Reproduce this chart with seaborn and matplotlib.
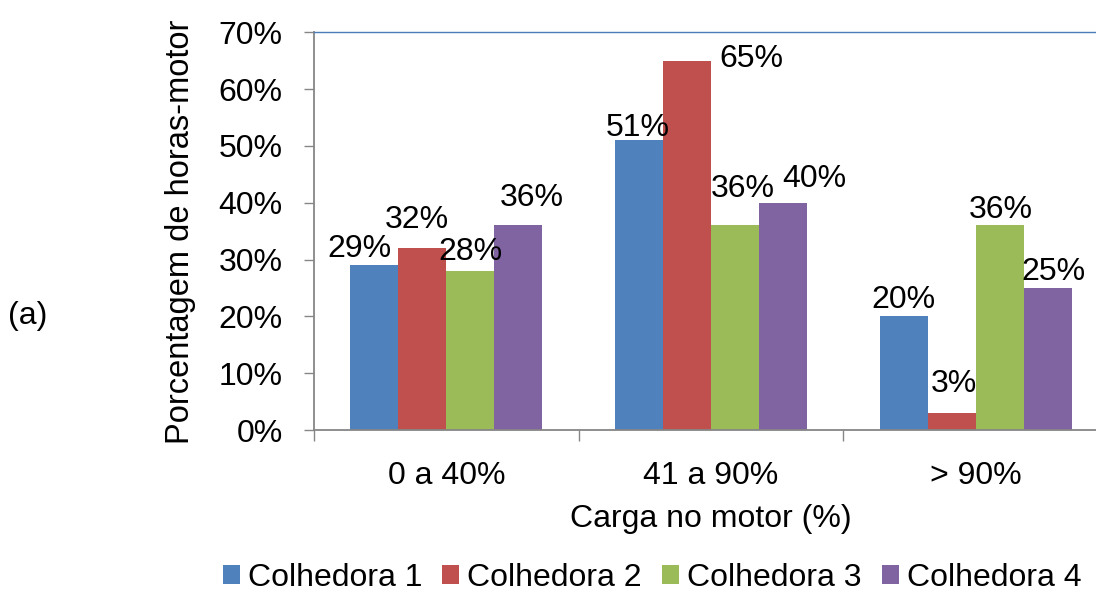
import matplotlib
matplotlib.use("Agg")
import matplotlib.pyplot as plt
import seaborn as sns
import pandas as pd
from matplotlib.ticker import FixedLocator, FuncFormatter

# Chart data
cargas = ["0 a 40%", "41 a 90%", "> 90%"]
colhedoras = ["Colhedora 1", "Colhedora 2", "Colhedora 3", "Colhedora 4"]
colhedora_1 = [29, 51, 20]
colhedora_2 = [32, 65, 3]
colhedora_3 = [28, 36, 36]
colhedora_4 = [36, 40, 25]

cores = ["#4F81BD", "#C0504D", "#9BBB59", "#8064A2"]

# Per-label nudges (pixels) for the value labels, one row per series
label_dx = [[-14.5, -0.7, 0.0], [-5.3, 64.7, 2.7], [0.0, 7.8, 0.7], [13.7, 31.7, 5.3]]
label_dy = [[8.6, 4.3, 8.0], [20.3, -6.7, 21.3], [10.6, 28.3, 7.7], [19.0, 15.3, 7.7]]

series = [colhedora_1, colhedora_2, colhedora_3, colhedora_4]
df = pd.DataFrame(
    [(c, nome, v) for nome, vals in zip(colhedoras, series) for c, v in zip(cargas, vals)],
    columns=["Carga", "Colhedora", "Valor"],
)

sns.set_style("white")
plt.rcParams["font.family"] = ["Liberation Sans", "DejaVu Sans"]
plt.rcParams["text.color"] = "black"
FS = 23

W, H = 1096, 592
fig = plt.figure(figsize=(W / 100, H / 100), dpi=100)
ax = fig.add_axes([314 / W, (H - 430) / H, 794 / W, (430 - 32.3) / H])

sns.barplot(
    data=df, x="Carga", y="Valor", hue="Colhedora", order=cargas, hue_order=colhedoras,
    palette=cores, width=0.726, saturation=1, linewidth=0, ax=ax,
)

ax.set_xlim(-0.5, 2.5)
ax.set_ylim(0, 70)
ax.yaxis.set_major_locator(FixedLocator(range(0, 71, 10)))
ax.yaxis.set_major_formatter(FuncFormatter(lambda v, p: f"{v:.0f}%"))

# Spines
grey = "#868686"
for s in ("left", "bottom"):
    ax.spines[s].set_color(grey)
    ax.spines[s].set_linewidth(1.3)
ax.spines["top"].set_color("#4A7EBB")
ax.spines["top"].set_linewidth(1.0)
ax.spines["right"].set_visible(False)

# Ticks
ax.tick_params(axis="y", which="major", direction="out", length=7.5, width=1.0,
               color=grey, pad=15, labelsize=FS, labelcolor="black", left=True)
ax.tick_params(axis="x", which="major", length=0, pad=22, labelsize=FS, labelcolor="black")
ax.set_xticks([-0.5, 0.5, 1.5, 2.5], minor=True)
ax.tick_params(axis="x", which="minor", direction="out", length=8, width=1.0, color=grey,
               bottom=True)

ax.set_xlabel("")
ax.set_ylabel("")

# Value labels
for i, cont in enumerate(ax.containers):
    for j, bar in enumerate(cont):
        v = series[i][j]
        ax.annotate(
            f"{v}%", xy=(bar.get_x() + bar.get_width() / 2, bar.get_height()),
            xytext=(label_dx[i][j], label_dy[i][j]), textcoords="offset pixels",
            ha="center", va="baseline", fontsize=FS, color="black",
        )

# Axis titles and panel tag
fig.text(711 / W, 1 - 527 / H, "Carga no motor (%)", ha="center", va="baseline",
         fontsize=FS, color="black")
fig.text(181 / W, 1 - 232 / H, "Porcentagem de horas-motor", rotation=90,
         ha="center", va="center", fontsize=23.5, color="black")
fig.text(28 / W, 1 - 316 / H, "(a)", ha="center", va="center", fontsize=FS, color="black")

# Legend
handles, labels = ax.get_legend_handles_labels()
if ax.get_legend() is not None:
    ax.get_legend().remove()
fig.legend(
    handles, labels, loc="center", bbox_to_anchor=(652 / W, 1 - 578 / H), ncol=4,
    frameon=False, fontsize=FS, handlelength=0.53, handleheight=0.53,
    handletextpad=0.25, columnspacing=0.63, borderpad=0, borderaxespad=0,
    labelcolor="black",
)

fig.savefig("out.png", dpi=100)
